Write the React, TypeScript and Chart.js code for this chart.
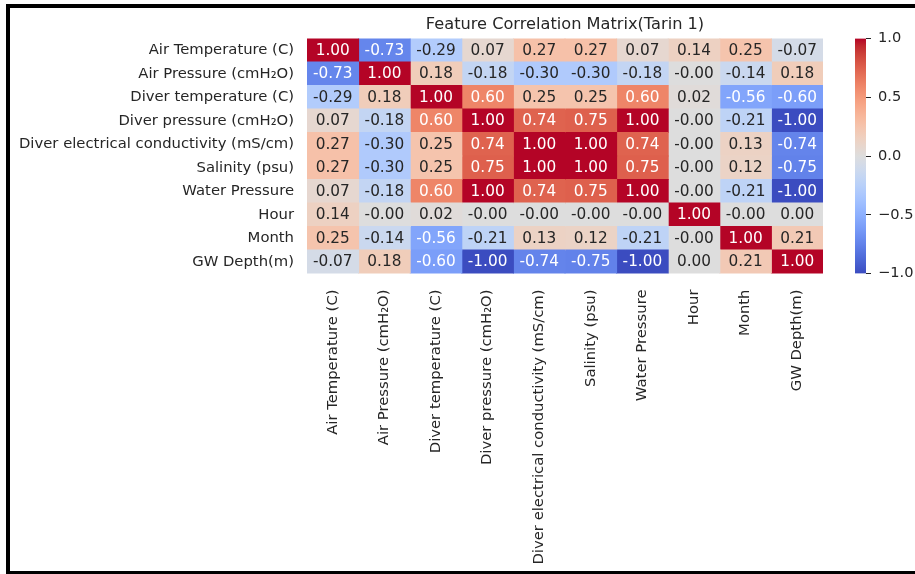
import React, { useEffect, useRef } from "react";
import { Chart, registerables } from "chart.js";

Chart.register(...registerables);

const FONT = "'DejaVu Sans', sans-serif";
const TEXT = "#262626";

const chartTitle = "Feature Correlation Matrix(Tarin 1)";

const features = [
  "Air Temperature (C)",
  "Air Pressure (cmH\u2082O)",
  "Diver temperature (C)",
  "Diver pressure (cmH\u2082O)",
  "Diver electrical conductivity (mS/cm)",
  "Salinity (psu)",
  "Water Pressure",
  "Hour",
  "Month",
  "GW Depth(m)",
];

// correlation rows (tiny signed values print as -0.00 / 0.00)
const airTemperature = [1.0, -0.73, -0.29, 0.07, 0.27, 0.27, 0.07, 0.14, 0.25, -0.07];
const airPressure = [-0.73, 1.0, 0.18, -0.18, -0.3, -0.3, -0.18, -0.002, -0.14, 0.18];
const diverTemperature = [-0.29, 0.18, 1.0, 0.6, 0.25, 0.25, 0.6, 0.02, -0.56, -0.6];
const diverPressure = [0.07, -0.18, 0.6, 1.0, 0.74, 0.75, 1.0, -0.002, -0.21, -1.0];
const diverConductivity = [0.27, -0.3, 0.25, 0.74, 1.0, 1.0, 0.74, -0.002, 0.13, -0.74];
const salinity = [0.27, -0.3, 0.25, 0.75, 1.0, 1.0, 0.75, -0.002, 0.12, -0.75];
const waterPressure = [0.07, -0.18, 0.6, 1.0, 0.74, 0.75, 1.0, -0.002, -0.21, -1.0];
const hour = [0.14, -0.002, 0.02, -0.002, -0.002, -0.002, -0.002, 1.0, -0.002, 0.002];
const month = [0.25, -0.14, -0.56, -0.21, 0.13, 0.12, -0.21, -0.002, 1.0, 0.21];
const gwDepth = [-0.07, 0.18, -0.6, -1.0, -0.74, -0.75, -1.0, 0.002, 0.21, 1.0];

const matrix = [
  airTemperature,
  airPressure,
  diverTemperature,
  diverPressure,
  diverConductivity,
  salinity,
  waterPressure,
  hour,
  month,
  gwDepth,
];

const colorbarTicks = [-1, -0.5, 0, 0.5, 1];

// coolwarm lookup (Moreland), 33 stops
const COOLWARM: number[][] = [
  [59, 76, 192], [68, 90, 204], [77, 104, 215], [87, 117, 225], [98, 130, 234],
  [108, 142, 241], [119, 154, 247], [130, 165, 251], [141, 176, 254], [152, 185, 255],
  [163, 194, 255], [174, 201, 253], [184, 208, 249], [194, 213, 244], [204, 217, 238],
  [213, 219, 230], [221, 221, 221], [229, 216, 209], [236, 211, 197], [241, 204, 185],
  [245, 196, 173], [247, 187, 160], [247, 177, 148], [247, 166, 135], [244, 154, 123],
  [241, 141, 111], [236, 127, 99], [229, 112, 88], [222, 96, 77], [213, 80, 66],
  [203, 62, 56], [192, 40, 47], [180, 4, 38],
];

function coolwarmRGB(v: number): number[] {
  let t = (v + 1) / 2;
  t = Math.max(0, Math.min(1, t));
  const p = t * (COOLWARM.length - 1);
  const i = Math.min(Math.floor(p), COOLWARM.length - 2);
  const f = p - i;
  const a = COOLWARM[i];
  const b = COOLWARM[i + 1];
  return [0, 1, 2].map((k) => a[k] + (b[k] - a[k]) * f);
}

function coolwarm(v: number): string {
  const [r, g, b] = coolwarmRGB(v);
  return `rgb(${Math.round(r)},${Math.round(g)},${Math.round(b)})`;
}

function textColorFor(v: number): string {
  const lin = coolwarmRGB(v).map((c) => {
    const s = c / 255;
    return s <= 0.03928 ? s / 12.92 : Math.pow((s + 0.055) / 1.055, 2.4);
  });
  const lum = 0.2126 * lin[0] + 0.7152 * lin[1] + 0.0722 * lin[2];
  return lum > 0.408 ? TEXT : "#ffffff";
}

const annotatePlugin = {
  id: "annotateCells",
  afterDatasetsDraw(chart: any) {
    const ctx = chart.ctx;
    ctx.save();
    ctx.font = `15.3px ${FONT}`;
    ctx.textAlign = "center";
    ctx.textBaseline = "middle";
    chart.data.datasets.forEach((_ds: any, j: number) => {
      const meta = chart.getDatasetMeta(j);
      meta.data.forEach((bar: any, i: number) => {
        const { x, y, base } = bar.getProps(["x", "y", "base"], true);
        const v = matrix[i][j];
        ctx.fillStyle = textColorFor(v);
        ctx.fillText(v.toFixed(2), (x + base) / 2, y + 0.5);
      });
    });
    ctx.restore();
  },
};

export default function App() {
  const mainRef = useRef<HTMLCanvasElement>(null);
  const barRef = useRef<HTMLCanvasElement>(null);

  useEffect(() => {
    Chart.defaults.font.family = FONT;
    Chart.defaults.color = TEXT;

    const MAIN_H = 574;
    const AREA_BOTTOM = 273.5;

    const main = new Chart(mainRef.current as HTMLCanvasElement, {
      type: "bar",
      data: {
        labels: features,
        datasets: features.map((col, j) => ({
          label: col,
          data: features.map(() => 1),
          backgroundColor: matrix.map((row) => coolwarm(row[j])),
          borderWidth: 0,
          barPercentage: 1,
          categoryPercentage: 1,
          inflateAmount: 0.5,
        })),
      },
      options: {
        indexAxis: "y",
        responsive: false,
        animation: false,
        layout: { padding: { left: 0, right: 27, top: 0, bottom: 0 } },
        plugins: {
          legend: { display: false },
          tooltip: { enabled: false },
          title: {
            display: true,
            text: chartTitle,
            color: TEXT,
            fullSize: false,
            font: { family: FONT, size: 16.2, weight: "normal" },
            padding: { top: 15, bottom: 4 },
          },
        },
        scales: {
          y: {
            type: "category",
            stacked: true,
            grid: { display: false, drawTicks: false },
            border: { display: false },
            ticks: { font: { family: FONT, size: 14.8 }, color: TEXT, padding: 13 },
            afterFit: (s: any) => {
              s.width = 307;
            },
          },
          x: {
            type: "linear",
            stacked: true,
            min: 0,
            max: features.length,
            grid: { display: false, drawTicks: false },
            border: { display: false },
            afterBuildTicks: (s: any) => {
              s.ticks = features.map((_f, i) => ({ value: i + 0.5 }));
            },
            ticks: {
              autoSkip: false,
              minRotation: 90,
              maxRotation: 90,
              padding: 16,
              font: { family: FONT, size: 14.8 },
              color: TEXT,
              callback: (_v: any, i: number) => features[i],
            },
            afterFit: (s: any) => {
              s.height = MAIN_H - AREA_BOTTOM;
            },
          },
        },
      } as any,
      plugins: [annotatePlugin],
    });

    const bar = new Chart(barRef.current as HTMLCanvasElement, {
      type: "bar",
      data: {
        labels: [""],
        datasets: [
          {
            data: [[colorbarTicks[0], colorbarTicks[colorbarTicks.length - 1]]],
            backgroundColor: (c: any) => {
              const { chart } = c;
              const area = chart.chartArea;
              if (!area) return "#ddd";
              const g = chart.ctx.createLinearGradient(0, area.bottom, 0, area.top);
              COOLWARM.forEach((_c, k) => {
                const t = k / (COOLWARM.length - 1);
                g.addColorStop(t, coolwarm(t * 2 - 1));
              });
              return g;
            },
            borderWidth: 0,
            barPercentage: 1,
            categoryPercentage: 1,
          } as any,
        ],
      },
      options: {
        responsive: false,
        animation: false,
        layout: { padding: { left: 5, right: 0, top: 38.5, bottom: 26.5 } },
        plugins: { legend: { display: false }, tooltip: { enabled: false } },
        scales: {
          x: { display: false },
          y: {
            position: "right",
            min: -1,
            max: 1,
            border: { display: false },
            grid: {
              drawOnChartArea: false,
              drawTicks: true,
              tickLength: 5,
              color: TEXT,
              lineWidth: 1,
            },
            afterBuildTicks: (s: any) => {
              s.ticks = colorbarTicks.map((v) => ({ value: v }));
            },
            ticks: {
              padding: 7,
              font: { family: FONT, size: 14.6 },
              color: TEXT,
              callback: (v: any) => (v < 0 ? "\u2212" : "") + Math.abs(v).toFixed(1),
            },
            afterFit: (s: any) => {
              s.width = 49;
            },
          },
        },
      } as any,
    });

    return () => {
      main.destroy();
      bar.destroy();
    };
  }, []);

  return (
    <div
      style={{
        position: "absolute",
        left: 0,
        top: 0,
        width: 915,
        height: 574,
        overflow: "hidden",
        background: "#fff",
      }}
    >
      <div
        style={{
          position: "absolute",
          left: 6,
          top: 4,
          width: 909,
          height: 571,
          boxSizing: "border-box",
          borderLeft: "4px solid #000",
          borderTop: "4px solid #000",
          borderBottom: "4px solid #000",
        }}
      />
      <canvas
        ref={mainRef}
        width={850}
        height={574}
        style={{ position: "absolute", left: 0, top: 0, width: 850, height: 574 }}
      />
      <canvas
        ref={barRef}
        width={65}
        height={300}
        style={{ position: "absolute", left: 850, top: 0, width: 65, height: 300 }}
      />
    </div>
  );
}
